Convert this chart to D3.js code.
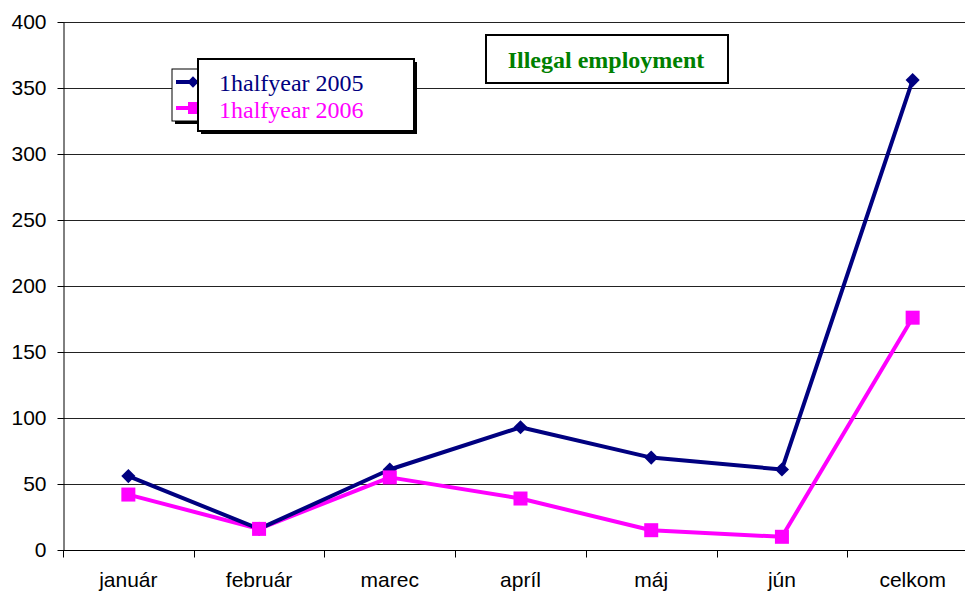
<!DOCTYPE html>
<html><head><meta charset="utf-8">
<script src="https://cdn.jsdelivr.net/npm/d3@7"></script>
<style>body{margin:0;background:#fff;overflow:hidden}svg{display:block}</style>
</head><body>
<svg id="c" width="965" height="592"></svg>
<script>
const categories = ["január","február","marec","apríl","máj","jún","celkom"];
const series2005 = [56,16,61,93,70,61,356];
const series2006 = [42,16,55,39,15,10,176];
const yTicks = [0,50,100,150,200,250,300,350,400];
const seriesNames = ["1halfyear 2005","1halfyear 2006"];
const titleText = "Illegal employment";

(function(){
const svg = d3.select("#c");
const pLeft = 63, pRight = 978, pTop = 22, pBottom = 550;
const x = d3.scalePoint().domain(categories).range([pLeft, pRight]).padding(0.5);
const y = d3.scaleLinear().domain([0,400]).range([pBottom, pTop]);

// gridlines
svg.append("g").selectAll("line").data(yTicks.filter(d=>d>0)).join("line")
  .attr("x1", pLeft).attr("x2", 965).attr("y1", d=>Math.round(y(d))+0.5).attr("y2", d=>Math.round(y(d))+0.5)
  .attr("stroke","#222").attr("stroke-width",1);

// y axis
const yAxis = d3.axisLeft(y).tickValues(yTicks).tickSize(6).tickSizeOuter(0).tickPadding(11);
const gy = svg.append("g").attr("transform",`translate(${pLeft+0.5},0)`).call(yAxis);
gy.select(".domain").attr("stroke","#000");
gy.selectAll(".tick line").attr("stroke","#000");
gy.selectAll("text").attr("font-family","Liberation Sans, Arial, sans-serif").attr("font-size",21).attr("fill","#000");

// x axis
const xb = d3.scaleLinear().domain([0,7]).range([pLeft,pRight]);
const gx = svg.append("g").attr("transform",`translate(0,${pBottom+0.5})`);
gx.append("line").attr("x1",pLeft).attr("x2",965).attr("stroke","#000");
gx.selectAll(".tk").data(d3.range(0,8)).join("line").attr("class","tk")
  .attr("x1",d=>Math.round(xb(d))+0.5).attr("x2",d=>Math.round(xb(d))+0.5).attr("y1",0).attr("y2",7).attr("stroke","#000");
gx.selectAll("text").data(categories).join("text")
  .attr("x",d=>x(d)).attr("y",36.5).attr("text-anchor","middle")
  .attr("font-family","Liberation Sans, Arial, sans-serif").attr("font-size",21).text(d=>d);

// lines
const line = d3.line().x((d,i)=>x(categories[i])).y(d=>y(d));
svg.append("path").datum(series2006).attr("d",line).attr("fill","none").attr("stroke","#ff00ff").attr("stroke-width",4).attr("stroke-linejoin","round");
svg.append("path").datum(series2005).attr("d",line).attr("fill","none").attr("stroke","#000080").attr("stroke-width",4).attr("stroke-linejoin","round");

svg.append("g").selectAll("path").data(series2005).join("path")
  .attr("d", d3.symbol().type(d3.symbolSquare).size(100)).attr("fill","#000080")
  .attr("transform",(d,i)=>`translate(${x(categories[i])},${y(d)}) rotate(45)`);
svg.append("g").selectAll("rect").data(series2006).join("rect")
  .attr("x",(d,i)=>x(categories[i])-7).attr("y",d=>y(d)-7).attr("width",14).attr("height",14).attr("fill","#ff00ff");

// title box
svg.append("rect").attr("x",486).attr("y",35).attr("width",242).attr("height",48).attr("fill","#fff").attr("stroke","#000").attr("stroke-width",2);
svg.append("text").attr("x",606).attr("y",68).attr("text-anchor","middle")
  .attr("font-family","Liberation Serif, Times New Roman, serif").attr("font-weight","bold").attr("font-size",24)
  .attr("fill","#008000").text(titleText);

// legend
const lg = svg.append("g");
lg.append("rect").attr("x",175).attr("y",72).attr("width",28).attr("height",52).attr("fill","#000");
lg.append("rect").attr("x",172).attr("y",69).attr("width",28).attr("height",52).attr("fill","#fff").attr("stroke","#000").attr("stroke-width",1);
lg.append("line").attr("x1",176).attr("x2",205).attr("y1",82).attr("y2",82).attr("stroke","#000080").attr("stroke-width",4);
lg.append("path").attr("d", d3.symbol().type(d3.symbolSquare).size(64)).attr("transform","translate(193,82) rotate(45)").attr("fill","#000080");
lg.append("line").attr("x1",176).attr("x2",205).attr("y1",108).attr("y2",108).attr("stroke","#ff00ff").attr("stroke-width",4);
lg.append("rect").attr("x",188).attr("y",102).attr("width",12).attr("height",12).attr("fill","#ff00ff");
lg.append("rect").attr("x",201).attr("y",62).attr("width",216).attr("height",72).attr("fill","#000");
lg.append("rect").attr("x",198).attr("y",59).attr("width",216).attr("height",72).attr("fill","#fff").attr("stroke","#000").attr("stroke-width",2);
lg.selectAll("text.lt").data(seriesNames).join("text").attr("class","lt")
  .attr("x",219).attr("y",(d,i)=>91+i*27)
  .attr("font-family","Liberation Serif, Times New Roman, serif").attr("font-size",24)
  .attr("fill",(d,i)=>i===0?"#000080":"#ff00ff").text(d=>d);
})();
</script>
</body></html>
